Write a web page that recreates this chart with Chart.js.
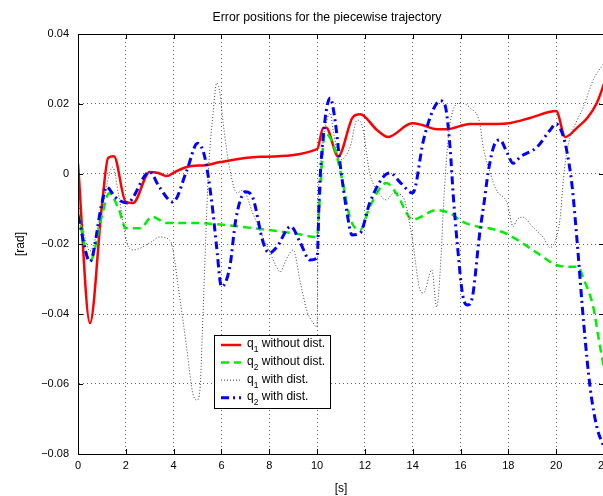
<!DOCTYPE html>
<html>
<head>
<meta charset="utf-8">
<script src="https://cdn.jsdelivr.net/npm/chart.js@4"></script>
<style>
  html, body { margin: 0; padding: 0; background: #fff; overflow: hidden; }
  #wrap { width: 654px; height: 496px; }
</style>
</head>
<body>
<div id="wrap"><canvas id="errChart" width="654" height="496"></canvas></div>
<script>
const chartTitle = 'Error positions for the piecewise trajectory';

// Tick labels
const xTickLabels = ['0', '2', '4', '6', '8', '10', '12', '14', '16', '18', '20', '22'];
const yTickLabels = ['\u22120.08', '\u22120.06', '\u22120.04', '\u22120.02', '0', '0.02', '0.04'];

// q1 without dist. (red)
const tQ1 = [0, 0.5, 1.0, 1.26, 1.5, 2.0, 2.3, 3.0, 3.35, 3.7, 4.06, 4.55, 5.4, 5.94, 7.6, 10.0, 10.25, 10.38, 10.88, 11.5, 11.8, 12.5, 12.97, 13.97, 14.4, 15.0, 15.4, 16.4, 17.5, 18.1, 18.9, 20.0, 20.38, 20.9, 21.3, 21.7, 22.0];
const q1 = [0.003, -0.0426, -0.009, 0.0046, 0.0051, -0.008, -0.0083, 0.0006, 0.0003, -0.0006, 0.0006, 0.002, 0.0026, 0.0034, 0.0049, 0.0071, 0.0131, 0.0132, 0.005, 0.0163, 0.0171, 0.0126, 0.0106, 0.0145, 0.014, 0.0128, 0.0128, 0.0143, 0.0143, 0.0146, 0.016, 0.018, 0.0106, 0.0134, 0.016, 0.0203, 0.0257];

// q2 without dist. (green)
const tQ2 = [0, 0.5, 1.0, 1.3, 1.7, 2.0, 2.6, 3.1, 3.7, 4.8, 6.2, 7.6, 9.0, 10.0, 10.1, 10.33, 10.7, 11.0, 11.4, 11.8, 12.2, 12.9, 13.3, 14.0, 15.0, 15.56, 16.1, 16.7, 17.2, 17.9, 18.6, 19.3, 20.0, 20.5, 20.9, 21.15, 21.55, 21.8, 22.0];
const q2 = [-0.011, -0.025, -0.012, -0.0055, -0.01, -0.0155, -0.0155, -0.0122, -0.014, -0.014, -0.0146, -0.0157, -0.0169, -0.018, -0.0083, 0.0117, 0.008, 0.0, -0.013, -0.016, -0.0094, -0.0026, -0.0054, -0.013, -0.0103, -0.0112, -0.0137, -0.015, -0.0155, -0.017, -0.0198, -0.023, -0.026, -0.0265, -0.0265, -0.030, -0.038, -0.048, -0.0555];

// q1 with dist. (black dotted)
const tQ1d = [0, 0.5, 1.0, 1.45, 1.7, 2.05, 2.3, 3.0, 3.4, 3.85, 4.27, 4.55, 4.8, 4.97, 5.1, 5.2, 5.35, 5.45, 5.65, 5.8, 5.94, 6.07, 6.36, 6.65, 6.9, 7.3, 7.6, 8.0, 8.3, 8.45, 8.7, 9.0, 9.3, 9.57, 9.84, 10.0, 10.05, 10.1, 10.33, 10.55, 10.67, 10.96, 11.38, 11.67, 11.9, 12.2, 12.5, 12.9, 13.2, 13.6, 13.97, 14.3, 14.45, 14.8, 15.0, 15.2, 15.27, 15.4, 15.56, 16.0, 16.4, 16.8, 16.95, 17.24, 17.5, 17.95, 18.2, 18.37, 18.6, 19.0, 19.45, 19.75, 20.0, 20.17, 20.3, 20.46, 20.7, 21.13, 21.55, 22.0];
const q1d = [-0.008, -0.022, -0.01, 0.002, -0.006, -0.0197, -0.0217, -0.0197, -0.018, -0.019, -0.036, -0.05, -0.0626, -0.0646, -0.0617, -0.0454, -0.017, 0.0, 0.0174, 0.026, 0.023, 0.0146, 0.001, -0.0054, -0.0046, -0.011, -0.016, -0.022, -0.0265, -0.028, -0.0246, -0.0217, -0.031, -0.039, -0.0426, -0.0437, -0.0074, -0.0009, 0.0126, 0.0174, 0.0126, 0.004, 0.0077, 0.0154, 0.0134, 0.0003, -0.0046, -0.0074, -0.0054, -0.0066, -0.018, -0.033, -0.034, -0.0274, -0.038, -0.0217, -0.0112, 0.0031, 0.0146, 0.0203, 0.0189, 0.0146, 0.0077, 0.0003, -0.0046, -0.0083, -0.015, -0.013, -0.0123, -0.015, -0.018, -0.021, -0.0183, -0.0123, -0.0017, 0.0069, 0.0126, 0.019, 0.0269, 0.0317];

// q2 with dist. (blue dash-dot)
const tQ2d = [0, 0.5, 1.0, 1.2, 1.55, 2.05, 3.0, 3.4, 3.97, 4.55, 5.0, 5.3, 5.6, 5.8, 6.0, 6.35, 6.6, 7.0, 7.3, 7.75, 8.0, 8.3, 8.9, 9.3, 9.7, 10.0, 10.1, 10.33, 10.55, 10.75, 10.96, 11.25, 11.46, 11.8, 12.2, 12.76, 13.05, 13.5, 14.0, 14.45, 14.85, 15.15, 15.35, 15.56, 15.7, 15.86, 16.1, 16.3, 16.5, 16.8, 17.0, 17.15, 17.45, 17.65, 17.95, 18.2, 18.5, 19.2, 19.75, 20.0, 20.25, 20.46, 20.67, 20.88, 21.15, 21.42, 21.7, 22.0];
const q2d = [-0.012, -0.025, -0.0083, -0.0037, -0.0066, -0.0083, 0.0006, -0.0037, -0.008, 0.001, 0.0088, 0.0049, -0.0083, -0.021, -0.0322, -0.0265, -0.013, -0.0051, -0.0066, -0.0197, -0.0226, -0.021, -0.015, -0.0197, -0.0246, -0.024, -0.0046, 0.0154, 0.0217, 0.0154, 0.003, -0.011, -0.0174, -0.0169, -0.0083, -0.0009, 0.0003, -0.0026, -0.0054, 0.0097, 0.0183, 0.0209, 0.0197, 0.0077, -0.0066, -0.0197, -0.035, -0.0374, -0.035, -0.017, -0.0074, 0.0003, 0.0089, 0.0097, 0.006, 0.0031, 0.0049, 0.0077, 0.0126, 0.0143, 0.0117, 0.006, -0.0037, -0.0197, -0.0426, -0.061, -0.0723, -0.078];

const seriesNames = [['q', '1', ' without dist.'], ['q', '2', ' without dist.'], ['q', '1', ' with dist.'], ['q', '2', ' with dist.']];

function pts(ts, vs) {
  return ts.map((t, i) => ({ x: t, y: vs[i] }));
}

const FONT = '"Liberation Sans", Arial, Helvetica, sans-serif';
Chart.defaults.font.family = FONT;
Chart.defaults.color = '#000';

// title centred on the (uncropped) figure
const figTitle = {
  id: 'figTitle',
  afterDraw(chart) {
    const { ctx } = chart;
    ctx.save();
    ctx.font = '12.3px ' + FONT;
    ctx.fillStyle = '#000';
    ctx.textAlign = 'center';
    ctx.textBaseline = 'middle';
    ctx.fillText(chartTitle, chart.width / 2, 18);
    ctx.restore();
  }
};

// box around the axes + inward ticks (matlab style)
const axesBox = {
  id: 'axesBox',
  afterDatasetsDraw(chart) {
    const { ctx, chartArea: a, scales } = chart;
    ctx.save();
    ctx.strokeStyle = '#000';
    ctx.lineWidth = 1;
    ctx.strokeRect(a.left + 0.5, a.top + 0.5, a.right - a.left, a.bottom - a.top);
    ctx.beginPath();
    scales.x.ticks.forEach(t => {
      const px = Math.round(scales.x.getPixelForValue(t.value)) + 0.5;
      ctx.moveTo(px, a.bottom); ctx.lineTo(px, a.bottom - 5);
      ctx.moveTo(px, a.top); ctx.lineTo(px, a.top + 5);
    });
    scales.y.ticks.forEach(t => {
      const py = Math.round(scales.y.getPixelForValue(t.value)) + 0.5;
      ctx.moveTo(a.left, py); ctx.lineTo(a.left + 5, py);
      ctx.moveTo(a.right, py); ctx.lineTo(a.right - 5, py);
    });
    ctx.stroke();
    ctx.restore();
  }
};

// legend box inside the plot
const innerLegend = {
  id: 'innerLegend',
  afterDraw(chart) {
    const { ctx } = chart;
    const x0 = 214, y0 = 335, w = 116, h = 73;
    ctx.save();
    ctx.fillStyle = '#fff';
    ctx.fillRect(x0, y0, w, h);
    ctx.strokeStyle = '#000';
    ctx.lineWidth = 1;
    ctx.strokeRect(x0 + 0.5, y0 + 0.5, w, h);
    chart.data.datasets.forEach((ds, i) => {
      const y = y0 + 10 + i * 17.6;
      ctx.save();
      ctx.strokeStyle = ds.borderColor;
      ctx.lineWidth = ds.borderWidth;
      ctx.setLineDash(ds.borderDash || []);
      ctx.beginPath();
      ctx.moveTo(x0 + 7, y); ctx.lineTo(x0 + 27, y);
      ctx.stroke();
      ctx.restore();
      const [q, sub, rest] = seriesNames[i];
      ctx.fillStyle = '#000';
      ctx.textBaseline = 'middle';
      ctx.font = '12px ' + FONT;
      let tx = x0 + 33;
      ctx.fillText(q, tx, y - 1);
      tx += ctx.measureText(q).width;
      ctx.font = '8.5px ' + FONT;
      ctx.fillText(sub, tx, y + 5);
      tx += ctx.measureText(sub).width;
      ctx.font = '12px ' + FONT;
      ctx.fillText(rest, tx, y - 1);
    });
    ctx.restore();
  }
};

new Chart(document.getElementById('errChart'), {
  type: 'line',
  data: {
    datasets: [
      { data: pts(tQ1, q1), borderColor: '#ff0000', borderWidth: 2.5, order: 3 },
      { data: pts(tQ2, q2), borderColor: '#00ee00', borderWidth: 2.5, borderDash: [8, 5], order: 2 },
      { data: pts(tQ1d, q1d), borderColor: '#444', borderWidth: 1, borderDash: [1, 2], order: 1 },
      { data: pts(tQ2d, q2d), borderColor: '#0000ff', borderWidth: 3, borderDash: [8, 4, 2, 4], order: 0 }
    ]
  },
  options: {
    responsive: false,
    animation: false,
    events: [],
    elements: {
      point: { radius: 0 },
      line: { cubicInterpolationMode: 'monotone', fill: false }
    },
    layout: { padding: { left: 0, right: 50, top: 34, bottom: 0 } },
    plugins: {
      legend: { display: false },
      tooltip: { enabled: false },
      title: { display: false }
    },
    scales: {
      x: {
        type: 'linear',
        min: 0, max: 22,
        ticks: {
          stepSize: 2,
          padding: 5,
          font: { size: 11 },
          maxRotation: 0,
          callback: (v, i) => xTickLabels[i]
        },
        grid: { color: 'rgba(0,0,0,0.6)', borderDash: [1, 3], drawTicks: false },
        border: { display: true, color: '#000', dash: [1, 3] },
        title: { display: true, text: '[s]', font: { size: 12 }, padding: { top: 0, bottom: 0 } },
        afterFit: s => { s.height = 42; }
      },
      y: {
        min: -0.08, max: 0.04,
        ticks: {
          stepSize: 0.02,
          padding: 9,
          font: { size: 11 },
          callback: (v, i) => yTickLabels[i]
        },
        grid: { color: 'rgba(0,0,0,0.6)', borderDash: [1, 3], drawTicks: false },
        border: { display: true, color: '#000', dash: [1, 3] },
        title: { display: true, text: '[rad]', font: { size: 12 }, padding: { top: 13, bottom: 0 } },
        afterFit: s => { s.width = 78; }
      }
    }
  },
  plugins: [figTitle, axesBox, innerLegend]
});
</script>
</body>
</html>
